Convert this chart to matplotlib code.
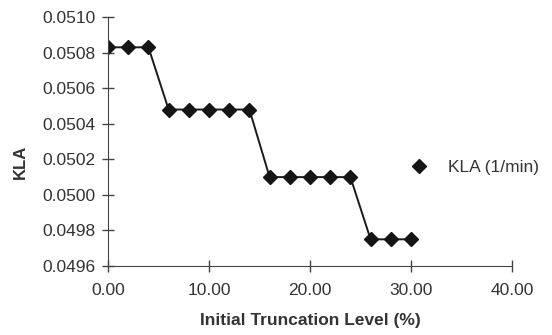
import matplotlib
matplotlib.use("Agg")
import matplotlib.pyplot as plt
from matplotlib.lines import Line2D

plt.rcParams['font.family'] = ['Liberation Sans', 'DejaVu Sans']

x = [0, 2, 4, 6, 8, 10, 12, 14, 16, 18, 20, 22, 24, 26, 28, 30]
kla = [0.05083, 0.05083, 0.05083,
       0.05048, 0.05048, 0.05048, 0.05048, 0.05048,
       0.05010, 0.05010, 0.05010, 0.05010, 0.05010,
       0.04975, 0.04975, 0.04975]
xticks = [0, 10, 20, 30, 40]
yticks = [0.0496, 0.0498, 0.0500, 0.0502, 0.0504, 0.0506, 0.0508, 0.0510]

fig = plt.figure(figsize=(5.52, 3.35), dpi=100)
ax = fig.add_axes([0.1957, 0.206, 0.7318, 0.743])
ax.plot(x, kla, color='#1a1a1a', lw=1.4, marker='D', ms=7.5, mfc='#151515', mec='#151515', label='KLA (1/min)')
ax.set_xlim(0, 40)
ax.set_ylim(0.0496, 0.0510)
ax.set_xticks(xticks)
ax.set_xticklabels([f"{v:.2f}" for v in xticks])
ax.set_yticks(yticks)
ax.set_yticklabels([f"{v:.4f}" for v in yticks])
for s in ['top', 'right']:
    ax.spines[s].set_visible(False)
for s in ['left', 'bottom']:
    ax.spines[s].set_color('#444444')
ax.tick_params(direction='inout', length=8, width=1, color='#444444', labelsize=12.5, labelcolor='#333333', pad=5)
ax.tick_params(axis='x', pad=8)
ax.set_xlabel('Initial Truncation Level (%)', fontsize=12.5, fontweight='bold', color='#333333', labelpad=11)
ax.set_ylabel('KLA', fontsize=12, fontweight='bold', color='#333333')
ax.yaxis.set_label_coords(-0.198, 0.42)

handle = Line2D([0], [0], color='none', lw=0, marker='D', ms=7.5, mfc='#151515', mec='#151515')
fig.legend([handle], ['KLA (1/min)'], loc='center left', bbox_to_anchor=(0.715, 0.50),
           frameon=False, fontsize=12.5, handlelength=1.0, handletextpad=1.2, labelcolor='#333333')

fig.savefig('out.png', dpi=100)
